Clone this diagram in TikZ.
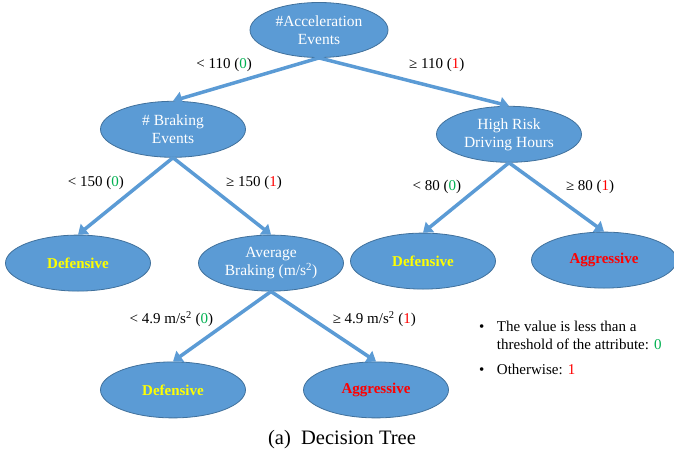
\documentclass[tikz,border=0pt]{standalone}
\usepackage{fontspec}
\setmainfont{Liberation Serif}
\usetikzlibrary{shapes,arrows.meta,positioning}
\definecolor{nodeblue}{HTML}{5B9BD5}
\definecolor{rimblue}{HTML}{41719C}
\definecolor{zero}{HTML}{00B050}
\definecolor{one}{HTML}{FF0000}
\definecolor{defcol}{HTML}{FFFF00}
\tikzstyle{split} = [ellipse, draw=rimblue, line width=0.8pt, fill=nodeblue,
    text=white, align=center, inner sep=0pt, minimum width=145pt,
    minimum height=56pt, font=\fontsize{15.5}{18}\selectfont]
\tikzstyle{leaf} = [split, font=\fontsize{15}{18}\selectfont\bfseries]
\tikzstyle{cond} = [inner sep=0pt, text=black, font=\fontsize{15}{18}\selectfont]
\tikzstyle{branch} = [draw=nodeblue, line width=3.5pt,
    -{Triangle[width=13pt,length=9pt]}]

\begin{document}
\begin{tikzpicture}[x=1pt, y=-1pt]
  \useasboundingbox (0,0) rectangle (674,454);

  \node [split, minimum width=138pt, minimum height=55pt] (accel) at (319,30) {\#Acceleration\\Events};

  \node [split, below=43pt of accel, xshift=-146pt] (braking) {\# Braking\\Events};
  \node [split, below=48pt of accel, xshift=190pt] (hours) {High Risk\\Driving Hours};

  \node [leaf, below=77pt of braking, xshift=-95pt, text=defcol] (def1) {Defensive};
  \node [split, below=77pt of braking, xshift=98pt] (avgbrk) {Average\\Braking (m/s\textsuperscript{2})};

  \node [leaf, below=70pt of hours, xshift=-86pt, text=defcol] (def2) {Defensive};
  \node [leaf, below=69pt of hours, xshift=95pt, text=one] (agg1) {Aggressive};

  \node [leaf, below=70pt of avgbrk, xshift=-98pt, text=defcol] (def3) {Defensive};
  \node [leaf, below=70pt of avgbrk, xshift=105pt, text=one] (agg2) {Aggressive};

  \draw [branch] (accel.south) -- node [cond, pos=.65, above=12pt] (acclo) {< 110 (\textcolor{zero}{0})} (braking.north);
  \draw [branch] (accel.south) -- node [cond, pos=.62, above=14pt] (acchi) {≥ 110 (\textcolor{one}{1})} (hours.north);
  \draw [branch] (braking.south) -- node [cond, pos=.33, left=16pt] (brklo) {< 150 (\textcolor{zero}{0})} (def1.north);
  \draw [branch] (braking.south) -- node [cond, pos=.33, right=19pt] (brkhi) {≥ 150 (\textcolor{one}{1})} (avgbrk.north);
  \draw [branch] (hours.south) -- node [cond, pos=.35, left=16pt] (hrslo) {< 80 (\textcolor{zero}{0})} (def2.north);
  \draw [branch] (hours.south) -- node [cond, pos=.35, right=22pt] (hrshi) {≥ 80 (\textcolor{one}{1})} (agg1.north);
  \draw [branch] (avgbrk.south) -- node [cond, pos=.4, left=17pt] (avglo) {< 4.9 m/s\textsuperscript{2} (\textcolor{zero}{0})} (def3.north);
  \draw [branch] (avgbrk.south) -- node [cond, pos=.4, right=18pt] (avghi) {≥ 4.9 m/s\textsuperscript{2} (\textcolor{one}{1})} (agg2.north);

  % legend and caption
  \node [anchor=north west, inner sep=0pt, font=\fontsize{15}{18}\selectfont] (key) at (479,319) {%
    \begin{tabular}{@{}l@{\hspace{12.5pt}}l@{}}
      \textbullet & The value is less than a\\
                  & threshold of the attribute: \textcolor{zero}{0}\\[7pt]
      \textbullet & Otherwise: \textcolor{one}{1}
    \end{tabular}};
  \node [font=\fontsize{20.5}{24}\selectfont] (caption) at (342,440) {(a)~~Decision Tree};
\end{tikzpicture}
\end{document}
